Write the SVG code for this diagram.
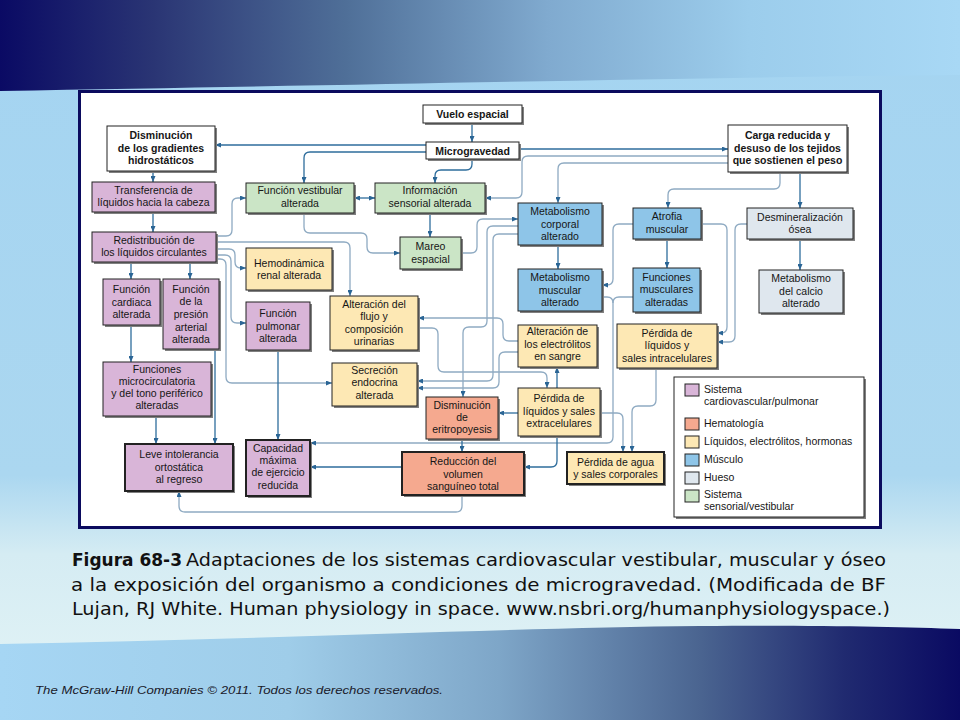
<svg xmlns="http://www.w3.org/2000/svg" width="960" height="720" viewBox="0 0 960 720">
<defs>
<linearGradient id="bg" x1="0" y1="0" x2="0" y2="720" gradientUnits="userSpaceOnUse">
<stop offset="0" stop-color="#a4d4f1"/><stop offset="0.66" stop-color="#abd7f0"/><stop offset="0.77" stop-color="#d5ecf3"/><stop offset="0.9" stop-color="#def1f5"/>
</linearGradient>
<linearGradient id="top" x1="0" y1="0" x2="960" y2="0" gradientUnits="userSpaceOnUse">
<stop offset="0" stop-color="#0a0a64"/><stop offset="0.16" stop-color="#2a3574"/><stop offset="0.36" stop-color="#4f6f98"/><stop offset="0.57" stop-color="#80aacf"/><stop offset="0.78" stop-color="#9ccdec"/><stop offset="1" stop-color="#a8d8f5"/>
</linearGradient>
<linearGradient id="bot" x1="0" y1="0" x2="960" y2="0" gradientUnits="userSpaceOnUse">
<stop offset="0" stop-color="#a6d6f4"/><stop offset="0.3" stop-color="#9fcde9"/><stop offset="0.52" stop-color="#7ea6c8"/><stop offset="0.73" stop-color="#4a6490"/><stop offset="0.88" stop-color="#202a70"/><stop offset="1" stop-color="#0a0a62"/>
</linearGradient>
<marker id="ah" viewBox="0 0 6 5" refX="6" refY="2.5" markerWidth="6" markerHeight="5" markerUnits="userSpaceOnUse" orient="auto-start-reverse"><path d="M0,0 L6,2.5 L0,5 z" fill="#2a6595"/></marker>
</defs>
<style>
.t{font-family:"Liberation Sans",Arial,Helvetica,sans-serif;font-size:10.5px;fill:#161616;text-anchor:middle}
.lg{font-family:"Liberation Sans",Arial,Helvetica,sans-serif;font-size:10.5px;fill:#161616}
.b{font-weight:bold}
.sh{fill:#808080}
.bx{stroke:#222222;stroke-width:1}
.th{stroke-width:2}
.wh{fill:#ffffff}
.pu{fill:#d9b5d8}
.gr{fill:#cbe5c6}
.ye{fill:#fde8b4}
.bl{fill:#8ec5e8}
.gy{fill:#dfe7ee}
.sa{fill:#f5a98f}
.c{fill:none;stroke-width:1.3}
.d{stroke:#2e6d9c}
.l{stroke:#8eaac2}
.a{marker-end:url(#ah)}
.cap{font-family:"DejaVu Sans","Liberation Sans",sans-serif;font-size:17px;fill:#111}
</style>
<rect x="0" y="0" width="960" height="720" fill="url(#bg)"/>
<path d="M0,0 H960 V75 C720,77 420,84 0,91 Z" fill="url(#top)"/>
<path d="M0,644 C250,640 500,628 700,626 C820,625 900,627 960,629 V720 H0 Z" fill="url(#bot)"/>
<rect x="79.5" y="91.5" width="801" height="436" fill="#ffffff" stroke="#0b0b5e" stroke-width="3"/>

<g id="connectors">
<path class="c d a" d="M472,123 V142"/>
<path class="c d a" d="M426,145 H215"/>
<path class="c d a" d="M426,152 H310 Q304,152 304,158 V183"/>
<path class="c d a" d="M519,149 H728"/>
<path class="c l a" d="M728,156 H528 Q522,156 522,162 V192 Q522,198 516,198 H485"/>
<path class="c l a" d="M728,163 H564 Q558,163 558,169 V203"/>
<path class="c d a" d="M472,159 V164 Q472,170 466,170 H441 Q435,170 435,176 V183"/>
<path class="c d a" d="M153,171 V182"/>
<path class="c d a" d="M153,212 V232"/>
<path class="c d a" d="M354,198 H375" marker-start="url(#ah)"/>
<path class="c l a" d="M216,236 H226 Q232,236 232,230 V204 Q232,198 238,198 H246"/>
<path class="c l a" d="M304,213 V227 Q304,233 310,233 H361 Q367,233 367,239 V247 Q367,253 373,253 H400"/>
<path class="c d a" d="M430,213 V237"/>
<path class="c l a" d="M461,253 H471 Q477,253 477,247 V225 Q477,219 483,219 H518"/>
<path class="c l a" d="M216,242 H344 Q350,242 350,248 V296"/>
<path class="c l a" d="M216,249 H229 Q235,249 235,255 V262 Q235,268 241,268 H246"/>
<path class="c l a" d="M216,255 H225 Q231,255 231,261 V317 Q231,323 237,323 H246"/>
<path class="c l a" d="M216,259 H220 Q226,259 226,265 V377 Q226,383 232,383 H332"/>
<path class="c d a" d="M131,262 V279"/>
<path class="c d a" d="M190,262 V279"/>
<path class="c d a" d="M131,325 V362"/>
<path class="c d a" d="M156,416 V444"/>
<path class="c d a" d="M215,349 V444"/>
<path class="c d a" d="M278,350 V440"/>
<path class="c l a" d="M633,297 H619 Q613,297 613,303 V437 Q613,443 607,443 H310"/>
<path class="c l" d="M602,297 H607 Q613,297 613,303"/>
<path class="c d a" d="M402,467 H310"/>
<path class="c l a" d="M633,224 H619 Q613,224 613,230 V279 Q613,285 607,285 H602"/>
<path class="c d a" d="M667,239 V268"/>
<path class="c l a" d="M701,224 H721 Q727,224 727,230 V327 Q727,333 721,333 H717"/>
<path class="c l a" d="M747,224 H741 Q735,224 735,230 V336 Q735,342 729,342 H717"/>
<path class="c d a" d="M800,239 V270"/>
<path class="c d a" d="M800,172 V208"/>
<path class="c l a" d="M780,172 V183 Q780,189 774,189 H674 Q668,189 668,195 V208"/>
<path class="c d a" d="M558,245 V269"/>
<path class="c l a" d="M518,226 H493 Q487,226 487,232 V321 Q487,327 481,327 H469 Q463,327 463,333 V397"/>
<path class="c l a" d="M518,234 H499 Q493,234 493,240 V375 Q493,381 487,381 H417"/>
<path class="c l a" d="M518,352 H505 Q499,352 499,358 V382 Q499,388 493,388 H417"/>
<path class="c l a" d="M418,328 H432 Q438,328 438,334 V366 Q438,372 444,372 H541 Q547,372 547,378 V388"/>
<path class="c l a" d="M518,341 H509 Q503,341 503,335 V324 Q503,318 497,318 H418"/>
<path class="c d a" d="M557,388 V367"/>
<path class="c d a" d="M518,413 H498"/>
<path class="c d a" d="M557,436 V461 Q557,467 551,467 H524"/>
<path class="c d a" d="M462,439 V452"/>
<path class="c l a" d="M462,495 V506 Q462,512 456,512 H185 Q179,512 179,506 V491"/>
<path class="c l a" d="M600,413 H617 Q623,413 623,419 V452"/>
<path class="c l a" d="M656,368 V400 Q656,406 650,406 H638 Q632,406 632,412 V452"/>
</g>

<g id="n-vuelo"><rect class="sh" x="425" y="107" width="99" height="18"/><rect class="bx wh" x="423" y="105" width="99" height="18"/><text class="t b"><tspan x="472.5" y="118">Vuelo espacial</tspan></text></g>
<g id="n-micro"><rect class="sh" x="428" y="144" width="93" height="17"/><rect class="bx wh" x="426" y="142" width="93" height="17"/><text class="t b"><tspan x="472.5" y="154.5">Microgravedad</tspan></text></g>
<g id="n-dismin"><rect class="sh" x="109" y="128" width="108" height="45"/><rect class="bx wh" x="107" y="126" width="108" height="45"/><text class="t b"><tspan x="161" y="139">Disminución</tspan><tspan x="161" y="151.5">de los gradientes</tspan><tspan x="161" y="164">hidrostáticos</tspan></text></g>
<g id="n-carga"><rect class="sh" x="730" y="127" width="119" height="47"/><rect class="bx wh" x="728" y="125" width="119" height="47"/><text class="t b"><tspan x="787.5" y="139">Carga reducida y</tspan><tspan x="787.5" y="151.5">desuso de los tejidos</tspan><tspan x="787.5" y="164">que sostienen el peso</tspan></text></g>
<g id="n-transf"><rect class="sh" x="94" y="184" width="123" height="30"/><rect class="bx pu" x="92" y="182" width="123" height="30"/><text class="t"><tspan x="153.5" y="194">Transferencia de</tspan><tspan x="153.5" y="206">líquidos hacia la cabeza</tspan></text></g>
<g id="n-fvest"><rect class="sh" x="248" y="185" width="108" height="30"/><rect class="bx gr" x="246" y="183" width="108" height="30"/><text class="t"><tspan x="300" y="194">Función vestibular</tspan><tspan x="300" y="206.5">alterada</tspan></text></g>
<g id="n-info"><rect class="sh" x="377" y="185" width="110" height="30"/><rect class="bx gr" x="375" y="183" width="110" height="30"/><text class="t"><tspan x="430" y="194">Información</tspan><tspan x="430" y="206.5">sensorial alterada</tspan></text></g>
<g id="n-metcorp"><rect class="sh" x="520" y="205" width="84" height="42"/><rect class="bx bl" x="518" y="203" width="84" height="42"/><text class="t"><tspan x="560" y="215">Metabolismo</tspan><tspan x="560" y="227.5">corporal</tspan><tspan x="560" y="240">alterado</tspan></text></g>
<g id="n-atrofia"><rect class="sh" x="635" y="210" width="68" height="31"/><rect class="bx bl" x="633" y="208" width="68" height="31"/><text class="t"><tspan x="667" y="220">Atrofia</tspan><tspan x="667" y="232.5">muscular</tspan></text></g>
<g id="n-desmin"><rect class="sh" x="749" y="210" width="106" height="31"/><rect class="bx gy" x="747" y="208" width="106" height="31"/><text class="t"><tspan x="800" y="220.5">Desmineralización</tspan><tspan x="800" y="233">ósea</tspan></text></g>
<g id="n-redis"><rect class="sh" x="94" y="234" width="124" height="30"/><rect class="bx pu" x="92" y="232" width="124" height="30"/><text class="t"><tspan x="154" y="243.5">Redistribución de</tspan><tspan x="154" y="256">los líquidos circulantes</tspan></text></g>
<g id="n-mareo"><rect class="sh" x="402" y="239" width="61" height="32"/><rect class="bx gr" x="400" y="237" width="61" height="32"/><text class="t"><tspan x="430.5" y="250">Mareo</tspan><tspan x="430.5" y="262.5">espacial</tspan></text></g>
<g id="n-hemo"><rect class="sh" x="248" y="250" width="86" height="42"/><rect class="bx ye" x="246" y="248" width="86" height="42"/><text class="t"><tspan x="289" y="266.5">Hemodinámica</tspan><tspan x="289" y="279">renal alterada</tspan></text></g>
<g id="n-fcard"><rect class="sh" x="105" y="281" width="57" height="46"/><rect class="bx pu" x="103" y="279" width="57" height="46"/><text class="t"><tspan x="131.5" y="293">Función</tspan><tspan x="131.5" y="305.5">cardiaca</tspan><tspan x="131.5" y="318">alterada</tspan></text></g>
<g id="n-fpres"><rect class="sh" x="165" y="281" width="56" height="70"/><rect class="bx pu" x="163" y="279" width="56" height="70"/><text class="t"><tspan x="191" y="292.5">Función</tspan><tspan x="191" y="305.2">de la</tspan><tspan x="191" y="317.9">presión</tspan><tspan x="191" y="330.6">arterial</tspan><tspan x="191" y="343.3">alterada</tspan></text></g>
<g id="n-metmus"><rect class="sh" x="520" y="271" width="84" height="42"/><rect class="bx bl" x="518" y="269" width="84" height="42"/><text class="t"><tspan x="560" y="281">Metabolismo</tspan><tspan x="560" y="293.5">muscular</tspan><tspan x="560" y="306">alterado</tspan></text></g>
<g id="n-fmus"><rect class="sh" x="635" y="270" width="67" height="44"/><rect class="bx bl" x="633" y="268" width="67" height="44"/><text class="t"><tspan x="666.5" y="280.5">Funciones</tspan><tspan x="666.5" y="293">musculares</tspan><tspan x="666.5" y="305.5">alteradas</tspan></text></g>
<g id="n-metcal"><rect class="sh" x="761" y="272" width="84" height="43"/><rect class="bx gy" x="759" y="270" width="84" height="43"/><text class="t"><tspan x="801" y="282">Metabolismo</tspan><tspan x="801" y="294.5">del calcio</tspan><tspan x="801" y="307">alterado</tspan></text></g>
<g id="n-fpul"><rect class="sh" x="248" y="304" width="64" height="48"/><rect class="bx pu" x="246" y="302" width="64" height="48"/><text class="t"><tspan x="278" y="317">Función</tspan><tspan x="278" y="329.5">pulmonar</tspan><tspan x="278" y="342">alterada</tspan></text></g>
<g id="n-altflujo"><rect class="sh" x="332" y="298" width="88" height="54"/><rect class="bx ye" x="330" y="296" width="88" height="54"/><text class="t"><tspan x="374" y="307.5">Alteración del</tspan><tspan x="374" y="320">flujo y</tspan><tspan x="374" y="332.5">composición</tspan><tspan x="374" y="345">urinarias</tspan></text></g>
<g id="n-altelec"><rect class="sh" x="520" y="327" width="79" height="42"/><rect class="bx ye" x="518" y="325" width="79" height="42"/><text class="t"><tspan x="557.5" y="335">Alteración de</tspan><tspan x="557.5" y="347.5">los electrólitos</tspan><tspan x="557.5" y="360">en sangre</tspan></text></g>
<g id="n-perdintra"><rect class="sh" x="619" y="326" width="100" height="44"/><rect class="bx ye" x="617" y="324" width="100" height="44"/><text class="t"><tspan x="667" y="336.5">Pérdida de</tspan><tspan x="667" y="349">líquidos y</tspan><tspan x="667" y="361.5">sales intracelulares</tspan></text></g>
<g id="n-fmicro"><rect class="sh" x="105" y="364" width="108" height="54"/><rect class="bx pu" x="103" y="362" width="108" height="54"/><text class="t"><tspan x="157" y="372.5">Funciones</tspan><tspan x="157" y="384.7">microcirculatoria</tspan><tspan x="157" y="396.9">y del tono periférico</tspan><tspan x="157" y="409.1">alteradas</tspan></text></g>
<g id="n-secr"><rect class="sh" x="334" y="365" width="85" height="43"/><rect class="bx ye" x="332" y="363" width="85" height="43"/><text class="t"><tspan x="374.5" y="373.5">Secreción</tspan><tspan x="374.5" y="386">endocrina</tspan><tspan x="374.5" y="398.5">alterada</tspan></text></g>
<g id="n-eritro"><rect class="sh" x="428" y="399" width="72" height="42"/><rect class="bx sa" x="426" y="397" width="72" height="42"/><text class="t"><tspan x="462" y="408.5">Disminución</tspan><tspan x="462" y="420.5">de</tspan><tspan x="462" y="432.5">eritropoyesis</tspan></text></g>
<g id="n-perdextra"><rect class="sh" x="520" y="390" width="82" height="48"/><rect class="bx ye" x="518" y="388" width="82" height="48"/><text class="t"><tspan x="559" y="402">Pérdida de</tspan><tspan x="559" y="414.5">líquidos y sales</tspan><tspan x="559" y="427">extracelulares</tspan></text></g>
<g id="n-leve"><rect class="sh" x="127" y="446" width="108" height="47"/><rect class="bx th pu" x="125" y="444" width="108" height="47"/><text class="t"><tspan x="179" y="458">Leve intolerancia</tspan><tspan x="179" y="470.5">ortostática</tspan><tspan x="179" y="483">al regreso</tspan></text></g>
<g id="n-capac"><rect class="sh" x="248" y="442" width="64" height="56"/><rect class="bx th pu" x="246" y="440" width="64" height="56"/><text class="t"><tspan x="278" y="452">Capacidad</tspan><tspan x="278" y="464">máxima</tspan><tspan x="278" y="476">de ejercicio</tspan><tspan x="278" y="488.5">reducida</tspan></text></g>
<g id="n-reduc"><rect class="sh" x="404" y="454" width="122" height="43"/><rect class="bx th sa" x="402" y="452" width="122" height="43"/><text class="t"><tspan x="463" y="465">Reducción del</tspan><tspan x="463" y="477.5">volumen</tspan><tspan x="463" y="489.5">sanguíneo total</tspan></text></g>
<g id="n-perdagua"><rect class="sh" x="569" y="454" width="97" height="32"/><rect class="bx th ye" x="567" y="452" width="97" height="32"/><text class="t"><tspan x="615.5" y="466">Pérdida de agua</tspan><tspan x="615.5" y="478">y sales corporales</tspan></text></g>

<g id="legend">
<rect class="sh" x="676" y="379" width="190" height="140"/>
<rect class="bx wh" x="674" y="377" width="190" height="140"/>
<rect class="bx pu" x="685" y="384" width="14" height="12" stroke-width="0.8"/>
<rect class="bx sa" x="685" y="418" width="14" height="12" stroke-width="0.8"/>
<rect class="bx ye" x="685" y="436" width="14" height="12" stroke-width="0.8"/>
<rect class="bx bl" x="685" y="454" width="14" height="12" stroke-width="0.8"/>
<rect class="bx gy" x="685" y="472" width="14" height="12" stroke-width="0.8"/>
<rect class="bx gr" x="685" y="490" width="14" height="12" stroke-width="0.8"/>
<text class="lg" x="704" y="393">Sistema</text>
<text class="lg" x="704" y="405">cardiovascular/pulmonar</text>
<text class="lg" x="704" y="427">Hematología</text>
<text class="lg" x="704" y="445">Líquidos, electrólitos, hormonas</text>
<text class="lg" x="704" y="463">Músculo</text>
<text class="lg" x="704" y="481">Hueso</text>
<text class="lg" x="704" y="498">Sistema</text>
<text class="lg" x="704" y="510">sensorial/vestibular</text>
</g>

<g id="caption">
<text class="cap" x="72" y="566" font-weight="bold" textLength="110" lengthAdjust="spacingAndGlyphs">Figura 68-3</text>
<text class="cap" x="186" y="566" textLength="700" lengthAdjust="spacingAndGlyphs">Adaptaciones de los sistemas cardiovascular vestibular, muscular y óseo</text>
<text class="cap" x="71" y="591" textLength="815" lengthAdjust="spacingAndGlyphs">a la exposición del organismo a condiciones de microgravedad. (Modificada de BF</text>
<text class="cap" x="72" y="615" textLength="818" lengthAdjust="spacingAndGlyphs">Lujan, RJ White. Human physiology in space. www.nsbri.org/humanphysiologyspace.)</text>
</g>
<text x="35" y="694" font-family="'Liberation Sans',Arial,sans-serif" font-size="11" font-style="italic" fill="#1a1a2a" textLength="408" lengthAdjust="spacingAndGlyphs">The McGraw-Hill  Companies © 2011.  Todos los derechos reservados.</text>
</svg>
